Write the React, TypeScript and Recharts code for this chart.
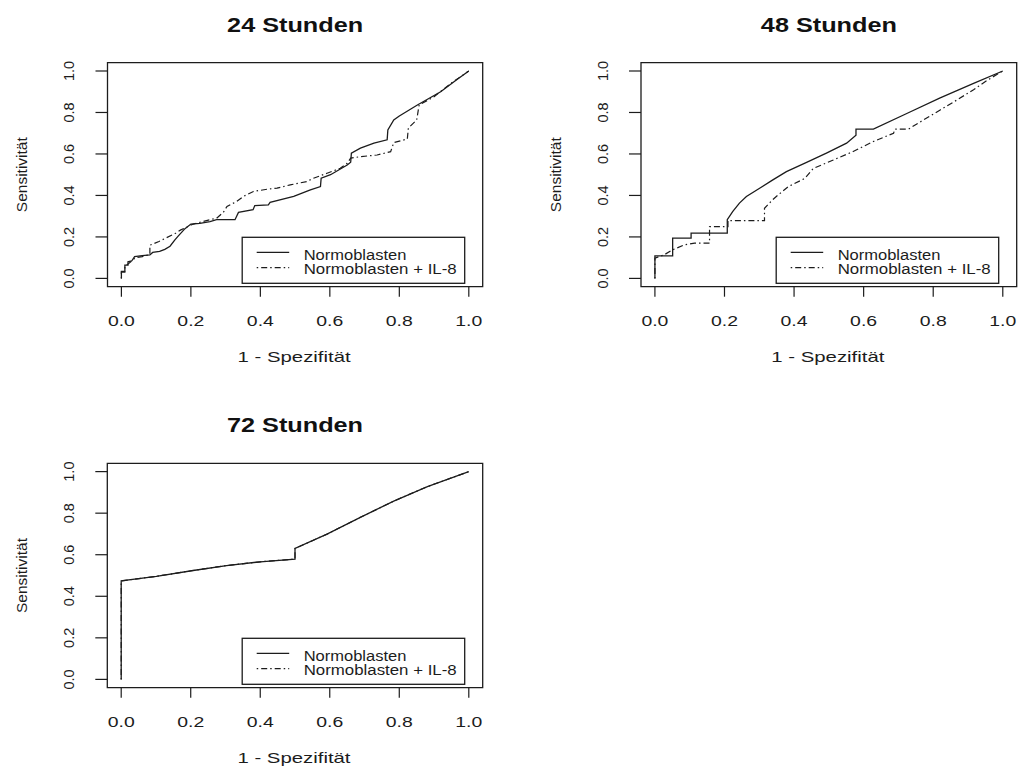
import React from "react";
import { LineChart, Line, XAxis, YAxis, ReferenceArea } from "recharts";

const FONT = "'Liberation Sans', Arial, Helvetica, sans-serif";
const INK = "#1c1c1c";

const TICKS = [0, 0.2, 0.4, 0.6, 0.8, 1];
const DOMAIN: [number, number] = [-0.04, 1.04];

const LEGEND_NAMES = ["Normoblasten", "Normoblasten + IL-8"];
const X_TITLE = "1 - Spezifität";
const Y_TITLE = "Sensitivität";

// ROC-Kurven: x = 1 - Spezifität, y = Sensitivität
const roc24Normo = [
  { x: 0, y: 0 }, { x: 0, y: 0.034 }, { x: 0.01, y: 0.034 }, { x: 0.01, y: 0.064 },
  { x: 0.019, y: 0.064 }, { x: 0.019, y: 0.08 }, { x: 0.03, y: 0.085 }, { x: 0.038, y: 0.105 },
  { x: 0.06, y: 0.11 }, { x: 0.082, y: 0.113 }, { x: 0.09, y: 0.125 }, { x: 0.11, y: 0.13 },
  { x: 0.125, y: 0.14 }, { x: 0.14, y: 0.155 }, { x: 0.154, y: 0.186 }, { x: 0.164, y: 0.205 },
  { x: 0.183, y: 0.24 }, { x: 0.2, y: 0.262 }, { x: 0.226, y: 0.265 }, { x: 0.255, y: 0.274 },
  { x: 0.274, y: 0.283 }, { x: 0.327, y: 0.283 }, { x: 0.337, y: 0.318 }, { x: 0.379, y: 0.331 },
  { x: 0.384, y: 0.351 }, { x: 0.423, y: 0.355 }, { x: 0.428, y: 0.367 }, { x: 0.496, y: 0.395 },
  { x: 0.544, y: 0.427 }, { x: 0.573, y: 0.443 }, { x: 0.575, y: 0.483 }, { x: 0.602, y: 0.5 },
  { x: 0.65, y: 0.547 }, { x: 0.66, y: 0.56 }, { x: 0.662, y: 0.604 }, { x: 0.688, y: 0.628 },
  { x: 0.727, y: 0.652 }, { x: 0.765, y: 0.668 }, { x: 0.767, y: 0.716 }, { x: 0.784, y: 0.764 },
  { x: 0.8, y: 0.783 }, { x: 0.852, y: 0.836 }, { x: 0.919, y: 0.9 }, { x: 0.967, y: 0.96 },
  { x: 1, y: 1 },
];

const roc24Il8 = [
  { x: 0, y: 0 }, { x: 0, y: 0.03 }, { x: 0.01, y: 0.03 }, { x: 0.01, y: 0.06 },
  { x: 0.02, y: 0.07 }, { x: 0.04, y: 0.1 }, { x: 0.06, y: 0.105 }, { x: 0.082, y: 0.115 },
  { x: 0.082, y: 0.16 }, { x: 0.108, y: 0.178 }, { x: 0.156, y: 0.218 }, { x: 0.171, y: 0.234 },
  { x: 0.207, y: 0.262 }, { x: 0.255, y: 0.283 }, { x: 0.274, y: 0.29 }, { x: 0.294, y: 0.32 },
  { x: 0.304, y: 0.347 }, { x: 0.332, y: 0.371 }, { x: 0.351, y: 0.395 }, { x: 0.38, y: 0.419 },
  { x: 0.419, y: 0.43 }, { x: 0.448, y: 0.435 }, { x: 0.486, y: 0.451 }, { x: 0.534, y: 0.467 },
  { x: 0.553, y: 0.483 }, { x: 0.592, y: 0.507 }, { x: 0.63, y: 0.531 }, { x: 0.65, y: 0.555 },
  { x: 0.66, y: 0.58 }, { x: 0.688, y: 0.587 }, { x: 0.736, y: 0.595 }, { x: 0.775, y: 0.611 },
  { x: 0.784, y: 0.655 }, { x: 0.823, y: 0.672 }, { x: 0.826, y: 0.725 }, { x: 0.85, y: 0.764 },
  { x: 0.857, y: 0.836 }, { x: 0.9, y: 0.876 }, { x: 0.948, y: 0.94 }, { x: 1, y: 1 },
];

const roc48Normo = [
  { x: 0, y: 0 }, { x: 0, y: 0.109 }, { x: 0.051, y: 0.109 }, { x: 0.051, y: 0.194 },
  { x: 0.104, y: 0.194 }, { x: 0.104, y: 0.218 }, { x: 0.208, y: 0.218 }, { x: 0.208, y: 0.283 },
  { x: 0.224, y: 0.323 }, { x: 0.243, y: 0.363 }, { x: 0.263, y: 0.395 }, { x: 0.301, y: 0.435 },
  { x: 0.339, y: 0.475 }, { x: 0.378, y: 0.515 }, { x: 0.436, y: 0.559 }, { x: 0.493, y: 0.604 },
  { x: 0.551, y: 0.652 }, { x: 0.578, y: 0.69 }, { x: 0.578, y: 0.72 }, { x: 0.628, y: 0.72 },
  { x: 0.724, y: 0.795 }, { x: 0.82, y: 0.87 }, { x: 0.916, y: 0.94 }, { x: 1, y: 1 },
];

const roc48Il8 = [
  { x: 0, y: 0 }, { x: 0, y: 0.098 }, { x: 0.027, y: 0.114 }, { x: 0.051, y: 0.138 },
  { x: 0.085, y: 0.162 }, { x: 0.114, y: 0.17 }, { x: 0.157, y: 0.17 }, { x: 0.157, y: 0.25 },
  { x: 0.21, y: 0.25 }, { x: 0.21, y: 0.279 }, { x: 0.315, y: 0.279 }, { x: 0.315, y: 0.338 },
  { x: 0.339, y: 0.38 }, { x: 0.354, y: 0.402 }, { x: 0.383, y: 0.442 }, { x: 0.431, y: 0.482 },
  { x: 0.455, y: 0.53 }, { x: 0.513, y: 0.571 }, { x: 0.57, y: 0.612 }, { x: 0.628, y: 0.66 },
  { x: 0.686, y: 0.7 }, { x: 0.69, y: 0.72 }, { x: 0.729, y: 0.72 }, { x: 0.772, y: 0.764 },
  { x: 0.82, y: 0.812 }, { x: 0.868, y: 0.86 }, { x: 0.916, y: 0.91 }, { x: 0.955, y: 0.955 },
  { x: 1, y: 1 },
];

// nach 72 h liegen beide Kurven aufeinander
const roc72Normo = [
  { x: 0, y: 0 }, { x: 0, y: 0.474 }, { x: 0.101, y: 0.496 }, { x: 0.207, y: 0.524 },
  { x: 0.303, y: 0.548 }, { x: 0.4, y: 0.566 }, { x: 0.5, y: 0.579 }, { x: 0.5, y: 0.63 },
  { x: 0.592, y: 0.699 }, { x: 0.688, y: 0.78 }, { x: 0.784, y: 0.858 }, { x: 0.881, y: 0.928 },
  { x: 1, y: 1 },
];
const roc72Il8 = roc72Normo;

const DASH = "1.5 3 6 3";

type Pt = { x: number; y: number };

type PanelProps = {
  title: string;
  left: number;
  top: number;
  width: number;
  height: number;
  yAxisWidth: number;
  marginTop: number;
  marginRight: number;
  marginBottom: number;
  normo: Pt[];
  il8: Pt[];
};

const X_AXIS_HEIGHT = 70;

function XTick({ x, y, payload }: any) {
  return (
    <text
      x={x}
      y={y + 27}
      textAnchor="middle"
      fontFamily={FONT}
      fontSize={15.5}
      fill={INK}
      textLength={27}
      lengthAdjust="spacingAndGlyphs"
    >
      {payload.value.toFixed(1)}
    </text>
  );
}

function YTick({ x, y, payload }: any) {
  const tx = x - 19;
  return (
    <text
      x={tx}
      y={y}
      transform={`rotate(-90, ${tx}, ${y})`}
      textAnchor="middle"
      fontFamily={FONT}
      fontSize={14.5}
      fill={INK}
    >
      {payload.value.toFixed(1)}
    </text>
  );
}

function Panel(p: PanelProps) {
  const boxL = p.yAxisWidth;
  const boxT = p.marginTop;
  const boxR = p.width - p.marginRight;
  const boxB = p.height - p.marginBottom - X_AXIS_HEIGHT;
  const cx = (boxL + boxR) / 2;
  const cy = (boxT + boxB) / 2;

  const lw = 222.5;
  const lh = 46;
  const lx = boxR - 18 - lw;
  const ly = boxB - 3.4 - lh;

  return (
    <div
      style={{ position: "absolute", left: p.left, top: p.top, width: p.width, height: p.height }}
    >
      <LineChart
        width={p.width}
        height={p.height}
        margin={{ top: p.marginTop, right: p.marginRight, bottom: p.marginBottom, left: 0 }}
      >
        <XAxis
          type="number"
          dataKey="x"
          domain={DOMAIN}
          ticks={TICKS}
          allowDataOverflow
          axisLine={false}
          tickSize={10}
          tickLine={{ stroke: INK, strokeWidth: 1.2 }}
          height={X_AXIS_HEIGHT}
          tick={<XTick />}
          interval={0}
        />
        <YAxis
          type="number"
          dataKey="y"
          domain={DOMAIN}
          ticks={TICKS}
          allowDataOverflow
          axisLine={false}
          tickSize={12}
          tickLine={{ stroke: INK, strokeWidth: 1.2 }}
          width={p.yAxisWidth}
          tick={<YTick />}
          interval={0}
        />
        <ReferenceArea
          x1={DOMAIN[0]}
          x2={DOMAIN[1]}
          y1={DOMAIN[0]}
          y2={DOMAIN[1]}
          fill="none"
          stroke={INK}
          strokeWidth={1.3}
          ifOverflow="visible"
        />
        <Line
          data={p.il8}
          dataKey="y"
          type="linear"
          stroke={INK}
          strokeWidth={1.2}
          strokeDasharray={DASH}
          dot={false}
          activeDot={false}
          isAnimationActive={false}
        />
        <Line
          data={p.normo}
          dataKey="y"
          type="linear"
          stroke={INK}
          strokeWidth={1.3}
          dot={false}
          activeDot={false}
          isAnimationActive={false}
        />
      </LineChart>
      <svg
        width={p.width}
        height={p.height}
        style={{ position: "absolute", left: 0, top: 0, pointerEvents: "none" }}
      >
        <text
          x={cx}
          y={boxT - 31}
          textAnchor="middle"
          fontFamily={FONT}
          fontWeight="bold"
          fontSize={20}
          fill="#111"
          textLength={136}
          lengthAdjust="spacingAndGlyphs"
        >
          {p.title}
        </text>
        <text
          x={cx - 1}
          y={boxB + 75}
          textAnchor="middle"
          fontFamily={FONT}
          fontSize={15}
          fill={INK}
          textLength={113}
          lengthAdjust="spacingAndGlyphs"
        >
          {X_TITLE}
        </text>
        <text
          x={boxL - 80}
          y={cy}
          transform={`rotate(-90, ${boxL - 80}, ${cy})`}
          textAnchor="middle"
          fontFamily={FONT}
          fontSize={15.5}
          fill={INK}
        >
          {Y_TITLE}
        </text>
        <rect x={lx} y={ly} width={lw} height={lh} fill="#fff" stroke={INK} strokeWidth={1.3} />
        <line x1={lx + 14.5} x2={lx + 47} y1={ly + 15} y2={ly + 15} stroke={INK} strokeWidth={1.3} />
        <line
          x1={lx + 14.5}
          x2={lx + 47}
          y1={ly + 30.4}
          y2={ly + 30.4}
          stroke={INK}
          strokeWidth={1.2}
          strokeDasharray={DASH}
        />
        <text
          x={lx + 61.5}
          y={ly + 22.7}
          fontFamily={FONT}
          fontSize={14}
          fill={INK}
          textLength={102.7}
          lengthAdjust="spacingAndGlyphs"
        >
          {LEGEND_NAMES[0]}
        </text>
        <text
          x={lx + 61.5}
          y={ly + 37}
          fontFamily={FONT}
          fontSize={14}
          fill={INK}
          textLength={153}
          lengthAdjust="spacingAndGlyphs"
        >
          {LEGEND_NAMES[1]}
        </text>
      </svg>
    </div>
  );
}

export default function App() {
  return (
    <div
      style={{
        position: "absolute",
        left: 0,
        top: 0,
        width: 1019,
        height: 766,
        background: "#fff",
        overflow: "hidden",
      }}
    >
      <Panel
        title="24 Stunden"
        left={0}
        top={0}
        width={509}
        height={383}
        yAxisWidth={107.5}
        marginTop={62.7}
        marginRight={26.3}
        marginBottom={26.3}
        normo={roc24Normo}
        il8={roc24Il8}
      />
      <Panel
        title="48 Stunden"
        left={530}
        top={0}
        width={489}
        height={383}
        yAxisWidth={111}
        marginTop={62.7}
        marginRight={2.3}
        marginBottom={26.3}
        normo={roc48Normo}
        il8={roc48Il8}
      />
      <Panel
        title="72 Stunden"
        left={0}
        top={400}
        width={509}
        height={366}
        yAxisWidth={107.3}
        marginTop={63.3}
        marginRight={26.3}
        marginBottom={8.3}
        normo={roc72Normo}
        il8={roc72Il8}
      />
    </div>
  );
}
